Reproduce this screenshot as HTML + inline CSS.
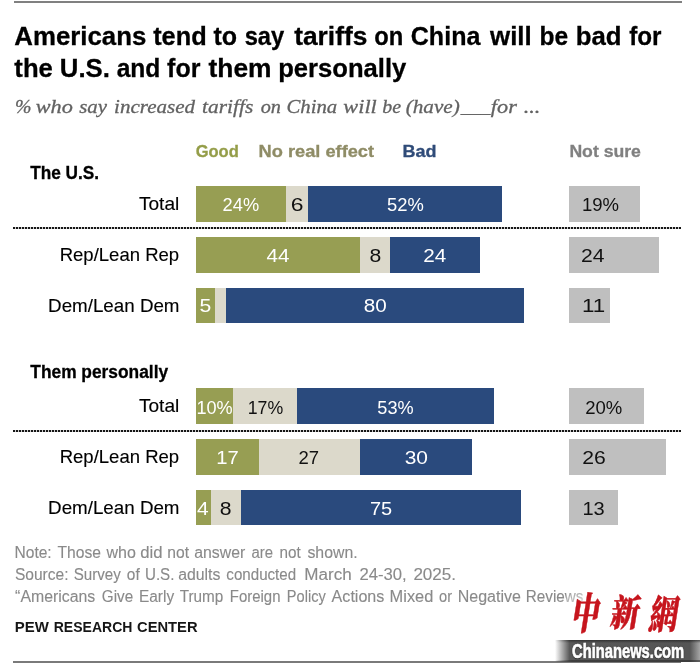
<!DOCTYPE html><html lang="en"><head><meta charset="utf-8"><title>Americans tend to say tariffs on China will be bad</title>
<style>html,body{margin:0;padding:0;background:#fff}body{width:700px;height:664px;position:relative;overflow:hidden}.b{position:absolute}.t{position:absolute;white-space:pre;line-height:1;transform-origin:0 0;margin:0;padding:0}.ln{position:absolute;white-space:pre;margin:0;padding:0}.ln .w{position:static;display:inline-block;vertical-align:baseline;font:inherit;color:inherit}.s1{-webkit-text-stroke:.12px currentColor}.s2{-webkit-text-stroke:.2px currentColor}.s3{-webkit-text-stroke:.3px currentColor}.s4{-webkit-text-stroke:.4px currentColor}.dot{position:absolute;left:13px;width:668px;height:2.3px;background:repeating-linear-gradient(90deg,#161616 0,#161616 2px,rgba(22,22,22,.22) 2px,rgba(22,22,22,.22) 3px)}.wcl,.ln .wc{font:900 35px/1 'Liberation Serif','Noto Serif CJK SC','Noto Sans CJK SC',serif;color:#c6151d;-webkit-text-stroke:.5px #c6151d;transform-origin:0 0;text-shadow:0 0 2px #fff,0 0 3px #fff}</style></head><body>
<div id="chart" style="position:absolute;left:0;top:0;width:700px;height:664px">
<div class="b" style="left:13.50px;top:1.00px;width:668.00px;height:1.70px;background:#808080"></div>
<div class="b" style="left:13.20px;top:660.80px;width:668.00px;height:1.80px;background:#7a7a7a"></div>
<div class="dot" style="top:226.70px"></div>
<div class="dot" style="top:429.70px"></div>
<div class="b" style="left:196.00px;top:186.30px;width:89.54px;height:35.40px;background:#979e53"></div>
<div class="b" style="left:285.54px;top:186.30px;width:22.39px;height:35.40px;background:#dcd9cb"></div>
<div class="b" style="left:307.93px;top:186.30px;width:194.01px;height:35.40px;background:#2a4a7d"></div>
<div class="b" style="left:569.30px;top:186.30px;width:70.89px;height:35.40px;background:#bfbfbf"></div>
<div class="b" style="left:196.00px;top:237.00px;width:164.16px;height:35.50px;background:#979e53"></div>
<div class="b" style="left:360.16px;top:237.00px;width:29.85px;height:35.50px;background:#dcd9cb"></div>
<div class="b" style="left:390.01px;top:237.00px;width:89.54px;height:35.50px;background:#2a4a7d"></div>
<div class="b" style="left:569.30px;top:237.00px;width:89.54px;height:35.50px;background:#bfbfbf"></div>
<div class="b" style="left:196.00px;top:287.60px;width:18.66px;height:35.60px;background:#979e53"></div>
<div class="b" style="left:214.66px;top:287.60px;width:11.19px;height:35.60px;background:#dcd9cb"></div>
<div class="b" style="left:225.85px;top:287.60px;width:298.48px;height:35.60px;background:#2a4a7d"></div>
<div class="b" style="left:569.30px;top:287.60px;width:41.04px;height:35.60px;background:#bfbfbf"></div>
<div class="b" style="left:196.00px;top:388.30px;width:37.31px;height:36.20px;background:#979e53"></div>
<div class="b" style="left:233.31px;top:388.30px;width:63.43px;height:36.20px;background:#dcd9cb"></div>
<div class="b" style="left:296.74px;top:388.30px;width:197.74px;height:36.20px;background:#2a4a7d"></div>
<div class="b" style="left:569.30px;top:388.30px;width:74.62px;height:36.20px;background:#bfbfbf"></div>
<div class="b" style="left:196.00px;top:439.30px;width:63.43px;height:35.70px;background:#979e53"></div>
<div class="b" style="left:259.43px;top:439.30px;width:100.74px;height:35.70px;background:#dcd9cb"></div>
<div class="b" style="left:360.16px;top:439.30px;width:111.93px;height:35.70px;background:#2a4a7d"></div>
<div class="b" style="left:569.30px;top:439.30px;width:97.01px;height:35.70px;background:#bfbfbf"></div>
<div class="b" style="left:196.00px;top:489.60px;width:14.92px;height:35.90px;background:#979e53"></div>
<div class="b" style="left:210.92px;top:489.60px;width:29.85px;height:35.90px;background:#dcd9cb"></div>
<div class="b" style="left:240.77px;top:489.60px;width:279.82px;height:35.90px;background:#2a4a7d"></div>
<div class="b" style="left:569.30px;top:489.60px;width:48.50px;height:35.90px;background:#bfbfbf"></div>
<div class="ln s3" style="left:14px;top:23px;font:normal 700 26.7px/1 'Liberation Sans', sans-serif;color:#000"><span class="t w" id="t0" style="width:139px;transform:translate(0.23px,0.00px) scaleX(0.9685)">Americans </span><span class="t w" id="t1" style="width:60px;transform:translate(0.17px,0.00px) scaleX(0.9496)">tend </span><span class="t w" id="t2" style="width:31px;transform:translate(0.53px,0.00px) scaleX(0.9375)">to </span><span class="t w" id="t3" style="width:50px;transform:translate(0.65px,0.00px) scaleX(0.8899)">say </span><span class="t w" id="t4" style="width:80px;transform:translate(0.17px,0.00px) scaleX(0.9863)">tariffs </span><span class="t w" id="t5" style="width:36px;transform:translate(0.36px,0.00px) scaleX(0.8899)">on </span><span class="t w" id="t6" style="width:80px;transform:translate(0.78px,0.00px) scaleX(0.9388)">China </span><span class="t w" id="t7" style="width:49px;transform:translate(0.05px,0.00px) scaleX(0.9697)">will </span><span class="t w" id="t8" style="width:36px;transform:translate(0.44px,0.00px) scaleX(0.9211)">be </span><span class="t w" id="t9" style="width:54px;transform:translate(0.79px,0.00px) scaleX(0.9659)">bad </span><span class="t w" id="t10" style="transform:translate(0.22px,0.00px) scaleX(0.9071)">for</span></div>
<div class="ln s3" style="left:14px;top:55px;font:normal 700 26.7px/1 'Liberation Sans', sans-serif;color:#000"><span class="t w" id="t11" style="width:45px;transform:translate(0.36px,0.20px) scaleX(0.9615)">the </span><span class="t w" id="t12" style="width:57px;transform:translate(0.83px,0.20px) scaleX(0.9642)">U.S. </span><span class="t w" id="t13" style="width:51px;transform:translate(0.65px,0.20px) scaleX(0.9222)">and </span><span class="t w" id="t14" style="width:41px;transform:translate(0.11px,0.20px) scaleX(0.9353)">for </span><span class="t w" id="t15" style="width:70px;transform:translate(0.52px,0.20px) scaleX(0.9879)">them </span><span class="t w" id="t16" style="transform:translate(0.14px,0.20px) scaleX(0.9601)">personally</span></div>
<div class="ln s3" style="left:15px;top:97px;font:italic 400 19.7px/1 'Liberation Serif', serif;color:#626262"><span class="t w" id="t17" style="width:20px;transform:translate(0.03px,0.00px) scaleX(1.0035)">% </span><span class="t w" id="t18" style="width:44px;transform:translate(0.71px,0.00px) scaleX(1.1299)">who </span><span class="t w" id="t19" style="width:35px;transform:translate(0.13px,0.00px) scaleX(1.0577)">say </span><span class="t w" id="t20" style="width:88px;transform:translate(0.08px,0.00px) scaleX(1.0671)">increased </span><span class="t w" id="t21" style="width:58px;transform:translate(0.03px,0.00px) scaleX(1.0879)">tariffs </span><span class="t w" id="t22" style="width:26px;transform:translate(0.73px,0.00px) scaleX(1.0274)">on </span><span class="t w" id="t23" style="width:57px;transform:translate(0.46px,0.00px) scaleX(1.0541)">China </span><span class="t w" id="t24" style="width:39px;transform:translate(0.36px,0.00px) scaleX(1.1316)">will </span><span class="t w" id="t25" style="width:23px;transform:translate(0.20px,0.00px) scaleX(1.0114)">be </span><span class="t w" id="t26" style="width:55px;transform:translate(0.63px,0.00px) scaleX(1.0765)">(have) </span><span class="t w" id="t27" style="width:30px;transform:translate(0.86px,0.00px) scaleX(1.0035)">___ </span><span class="t w" id="t28" style="width:33px;transform:translate(0.84px,0.00px) scaleX(1.1316)">for </span><span class="t w" id="t29" style="transform:translate(0.65px,0.00px) scaleX(1.1316)">...</span></div>
<span class="t s3" id="t30" style="left:195px;top:143px;font:normal 700 17.0px/1 'Liberation Sans', sans-serif;color:#949d48;transform:translate(0.68px,0.10px) scaleX(0.9708)">Good</span>
<span class="t s3" id="t31" style="left:258px;top:143px;font:normal 700 17.0px/1 'Liberation Sans', sans-serif;color:#8f8c66;transform:translate(0.52px,0.10px) scaleX(1.0728)">No real effect</span>
<span class="t s3" id="t32" style="left:402px;top:143px;font:normal 700 17.0px/1 'Liberation Sans', sans-serif;color:#2f4b78;transform:translate(0.49px,0.10px) scaleX(1.0579)">Bad</span>
<span class="t s3" id="t33" style="left:569px;top:143px;font:normal 700 17.0px/1 'Liberation Sans', sans-serif;color:#808080;transform:translate(0.39px,0.10px) scaleX(1.0370)">Not sure</span>
<span class="t s3" id="t34" style="left:30px;top:165px;font:normal 700 17.6px/1 'Liberation Sans', sans-serif;color:#000;transform:translate(0.21px,0.00px) scaleX(0.9783)">The U.S.</span>
<span class="t s3" id="t35" style="left:30px;top:363px;font:normal 700 17.6px/1 'Liberation Sans', sans-serif;color:#000;transform:translate(0.31px,0.73px) scaleX(0.9856)">Them personally</span>
<span class="t s1" id="t36" style="left:138px;top:196px;font:normal 400 17.8px/1 'Liberation Sans', sans-serif;color:#000;transform:translate(0.89px,0.00px) scaleX(1.0759)">Total</span>
<span class="t s1" id="t37" style="left:59px;top:246px;font:normal 400 17.8px/1 'Liberation Sans', sans-serif;color:#000;transform:translate(0.64px,0.60px) scaleX(1.0421)">Rep/Lean Rep</span>
<span class="t s1" id="t38" style="left:48px;top:297px;font:normal 400 17.8px/1 'Liberation Sans', sans-serif;color:#000;transform:translate(0.11px,0.60px) scaleX(1.0552)">Dem/Lean Dem</span>
<span class="t s1" id="t39" style="left:138px;top:398px;font:normal 400 17.8px/1 'Liberation Sans', sans-serif;color:#000;transform:translate(0.89px,0.10px) scaleX(1.0759)">Total</span>
<span class="t s1" id="t40" style="left:59px;top:448px;font:normal 400 17.8px/1 'Liberation Sans', sans-serif;color:#000;transform:translate(0.64px,0.60px) scaleX(1.0421)">Rep/Lean Rep</span>
<span class="t s1" id="t41" style="left:48px;top:499px;font:normal 400 17.8px/1 'Liberation Sans', sans-serif;color:#000;transform:translate(0.11px,0.60px) scaleX(1.0552)">Dem/Lean Dem</span>
<span class="t " id="t42" style="left:222px;top:196px;font:normal 400 18.0px/1 'Liberation Sans', sans-serif;color:#fff;transform:translate(0.57px,0.20px) scaleX(1.0145)">24%</span>
<span class="t " id="t43" style="left:290px;top:196px;font:normal 400 18.0px/1 'Liberation Sans', sans-serif;color:#111;transform:translate(0.73px,0.20px) scaleX(1.2730)">6</span>
<span class="t " id="t44" style="left:386px;top:196px;font:normal 400 18.0px/1 'Liberation Sans', sans-serif;color:#fff;transform:translate(0.96px,0.20px) scaleX(1.0216)">52%</span>
<span class="t " id="t45" style="left:581px;top:196px;font:normal 400 18.0px/1 'Liberation Sans', sans-serif;color:#111;transform:translate(1.00px,0.20px) scaleX(1.0295)">19%</span>
<span class="t " id="t46" style="left:266px;top:246px;font:normal 400 18.0px/1 'Liberation Sans', sans-serif;color:#fff;transform:translate(0.45px,0.60px) scaleX(1.1431)">44</span>
<span class="t " id="t47" style="left:369px;top:246px;font:normal 400 18.0px/1 'Liberation Sans', sans-serif;color:#111;transform:translate(0.44px,0.60px) scaleX(1.1765)">8</span>
<span class="t " id="t48" style="left:423px;top:246px;font:normal 400 18.0px/1 'Liberation Sans', sans-serif;color:#fff;transform:translate(0.30px,0.60px) scaleX(1.1488)">24</span>
<span class="t " id="t49" style="left:581px;top:246px;font:normal 400 18.0px/1 'Liberation Sans', sans-serif;color:#111;transform:translate(0.05px,0.60px) scaleX(1.1735)">24</span>
<span class="t " id="t50" style="left:199px;top:296px;font:normal 400 18.0px/1 'Liberation Sans', sans-serif;color:#fff;transform:translate(0.62px,0.90px) scaleX(1.1765)">5</span>
<span class="t " id="t51" style="left:363px;top:296px;font:normal 400 18.0px/1 'Liberation Sans', sans-serif;color:#fff;transform:translate(0.87px,0.90px) scaleX(1.1468)">80</span>
<span class="t " id="t52" style="left:581px;top:296px;font:normal 400 18.0px/1 'Liberation Sans', sans-serif;color:#111;transform:translate(0.98px,0.90px) scaleX(1.2424)">11</span>
<span class="t " id="t53" style="left:196px;top:398px;font:normal 400 18.0px/1 'Liberation Sans', sans-serif;color:#fff;transform:translate(0.38px,0.50px) scaleX(1.0073)">10%</span>
<span class="t " id="t54" style="left:247px;top:398px;font:normal 400 18.0px/1 'Liberation Sans', sans-serif;color:#111;transform:translate(0.76px,0.50px) scaleX(0.9853)">17%</span>
<span class="t " id="t55" style="left:377px;top:398px;font:normal 400 18.0px/1 'Liberation Sans', sans-serif;color:#fff;transform:translate(0.37px,0.50px) scaleX(1.0072)">53%</span>
<span class="t " id="t56" style="left:585px;top:398px;font:normal 400 18.0px/1 'Liberation Sans', sans-serif;color:#111;transform:translate(0.26px,0.50px) scaleX(1.0290)">20%</span>
<span class="t " id="t57" style="left:216px;top:448px;font:normal 400 18.0px/1 'Liberation Sans', sans-serif;color:#fff;transform:translate(0.21px,0.80px) scaleX(1.1252)">17</span>
<span class="t " id="t58" style="left:298px;top:448px;font:normal 400 18.0px/1 'Liberation Sans', sans-serif;color:#111;transform:translate(0.49px,0.80px) scaleX(1.0273)">27</span>
<span class="t " id="t59" style="left:404px;top:448px;font:normal 400 18.0px/1 'Liberation Sans', sans-serif;color:#fff;transform:translate(0.72px,0.80px) scaleX(1.1622)">30</span>
<span class="t " id="t60" style="left:582px;top:448px;font:normal 400 18.0px/1 'Liberation Sans', sans-serif;color:#111;transform:translate(0.17px,0.80px) scaleX(1.1758)">26</span>
<span class="t " id="t61" style="left:197px;top:499px;font:normal 400 18.0px/1 'Liberation Sans', sans-serif;color:#fff;transform:translate(0.04px,0.77px) scaleX(1.1628)">4</span>
<span class="t " id="t62" style="left:219px;top:499px;font:normal 400 18.0px/1 'Liberation Sans', sans-serif;color:#111;transform:translate(0.75px,0.77px) scaleX(1.1765)">8</span>
<span class="t " id="t63" style="left:369px;top:499px;font:normal 400 18.0px/1 'Liberation Sans', sans-serif;color:#fff;transform:translate(0.93px,0.77px) scaleX(1.1099)">75</span>
<span class="t " id="t64" style="left:582px;top:499px;font:normal 400 18.0px/1 'Liberation Sans', sans-serif;color:#111;transform:translate(0.43px,0.77px) scaleX(1.1130)">13</span>
<div class="ln s1" style="left:14px;top:544px;font:normal 400 16.0px/1 'Liberation Sans', sans-serif;color:#8a8a8a"><span class="t w" id="t65" style="width:43px;transform:translate(0.50px,0.83px) scaleX(0.9721)">Note: </span><span class="t w" id="t66" style="width:49px;transform:translate(0.46px,0.83px) scaleX(0.9770)">Those </span><span class="t w" id="t67" style="width:34px;transform:translate(0.45px,0.83px) scaleX(1.0000)">who </span><span class="t w" id="t68" style="width:27px;transform:translate(0.31px,0.83px) scaleX(1.0445)">did </span><span class="t w" id="t69" style="width:27px;transform:translate(0.26px,0.83px) scaleX(0.9765)">not </span><span class="t w" id="t70" style="width:57px;transform:translate(0.25px,0.83px) scaleX(0.9901)">answer </span><span class="t w" id="t71" style="width:28px;transform:translate(0.49px,0.83px) scaleX(0.9312)">are </span><span class="t w" id="t72" style="width:28px;transform:translate(0.47px,0.83px) scaleX(0.9531)">not </span><span class="t w" id="t73" style="transform:translate(0.44px,0.83px) scaleX(0.9897)">shown.</span></div>
<div class="ln s1" style="left:14px;top:566px;font:normal 400 16.0px/1 'Liberation Sans', sans-serif;color:#8a8a8a"><span class="t w" id="t74" style="width:59px;transform:translate(0.90px,0.81px) scaleX(0.9717)">Source: </span><span class="t w" id="t75" style="width:53px;transform:translate(0.70px,0.81px) scaleX(0.9450)">Survey </span><span class="t w" id="t76" style="width:18px;transform:translate(0.87px,0.81px) scaleX(0.9615)">of </span><span class="t w" id="t77" style="width:34px;transform:translate(0.98px,0.81px) scaleX(0.9450)">U.S. </span><span class="t w" id="t78" style="width:48px;transform:translate(0.22px,0.81px) scaleX(0.9880)">adults </span><span class="t w" id="t79" style="width:78px;transform:translate(0.35px,0.81px) scaleX(0.9450)">conducted </span><span class="t w" id="t80" style="width:55px;transform:translate(0.36px,0.81px) scaleX(1.0657)">March </span><span class="t w" id="t81" style="width:54px;transform:translate(0.49px,0.81px) scaleX(1.0405)">24-30, </span><span class="t w" id="t82" style="transform:translate(0.39px,0.81px) scaleX(1.0657)">2025.</span></div>
<div class="ln s1" style="left:15px;top:589px;font:normal 400 16.0px/1 'Liberation Sans', sans-serif;color:#8a8a8a"><span class="t w" id="t83" style="width:86px;transform:translate(0.11px,0.28px) scaleX(0.9906)">“Americans </span><span class="t w" id="t84" style="width:37px;transform:translate(0.83px,0.28px) scaleX(0.9524)">Give </span><span class="t w" id="t85" style="width:41px;transform:translate(0.96px,0.28px) scaleX(0.9643)">Early </span><span class="t w" id="t86" style="width:50px;transform:translate(0.76px,0.28px) scaleX(0.9553)">Trump </span><span class="t w" id="t87" style="width:57px;transform:translate(0.83px,0.28px) scaleX(0.9327)">Foreign </span><span class="t w" id="t88" style="width:45px;transform:translate(0.87px,0.28px) scaleX(0.9110)">Policy </span><span class="t w" id="t89" style="width:58px;transform:translate(0.62px,0.28px) scaleX(1.0048)">Actions </span><span class="t w" id="t90" style="width:50px;transform:translate(0.61px,0.28px) scaleX(1.0247)">Mixed </span><span class="t w" id="t91" style="width:18px;transform:translate(0.11px,0.28px) scaleX(0.9110)">or </span><span class="t w" id="t92" style="width:68px;transform:translate(0.70px,0.28px) scaleX(1.0000)">Negative </span><span class="t w" id="t93" style="transform:translate(0.83px,0.28px) scaleX(0.9532)">Reviews</span></div>
<div class="ln " style="left:14px;top:619px;font:normal 700 15.4px/1 'Liberation Sans', sans-serif;color:#161616"><span class="t w" id="t94" style="width:39px;transform:translate(0.83px,0.26px) scaleX(0.9709)">PEW </span><span class="t w" id="t95" style="width:84px;transform:translate(0.74px,0.26px) scaleX(0.9112)">RESEARCH </span><span class="t w" id="t96" style="transform:translate(0.03px,0.26px) scaleX(0.9559)">CENTER</span></div>
</div>
<div id="wm" style="position:absolute;left:0;top:0;width:700px;height:664px;pointer-events:none">
<div class="b" style="left:566px;top:589px;width:122px;height:49px;background:radial-gradient(ellipse at center,rgba(255,255,255,.75) 55%,rgba(255,255,255,0) 100%)"></div>
<div class="b" style="left:555px;top:639.6px;width:145px;height:22.4px;background:linear-gradient(90deg,rgba(85,85,85,0) 0,#595959 10%,#555 93%,#a5a5a5 100%)"></div>
<div class="b" style="left:555px;top:639.6px;width:145px;height:3px;background:linear-gradient(180deg,rgba(25,25,25,.6),rgba(25,25,25,0));-webkit-mask-image:linear-gradient(90deg,transparent 0,#000 12%);mask-image:linear-gradient(90deg,transparent 0,#000 12%)"></div>
<div class="b" style="left:555px;top:660px;width:145px;height:2px;background:rgba(40,40,40,.55);-webkit-mask-image:linear-gradient(90deg,transparent 0,#000 12%);mask-image:linear-gradient(90deg,transparent 0,#000 12%)"></div>
<div class="ln wcl" style="left:575.6px;top:593.4px"><span class="t w wc" style="width:38.2px;transform:skewX(-9deg) scale(.78,1.23)">中</span><span class="t w wc" style="width:39.2px;transform:translate(0,2.6px) skewX(-9deg) scale(.82,1.05)">新</span><span class="t w wc" style="transform:translate(0,2.4px) skewX(-9deg) scale(.815,1.15)">網</span></div>
<span class="t" id="wm2" style="left:572px;top:641.2px;font:700 20px/1 'Liberation Sans',sans-serif;color:#fff;transform:scaleX(.737);text-shadow:0 0 1px #222,0 1px 1px #222,0 0 2px #333;-webkit-text-stroke:.7px #fff">Chinanews.com</span>
</div>
</body></html>
